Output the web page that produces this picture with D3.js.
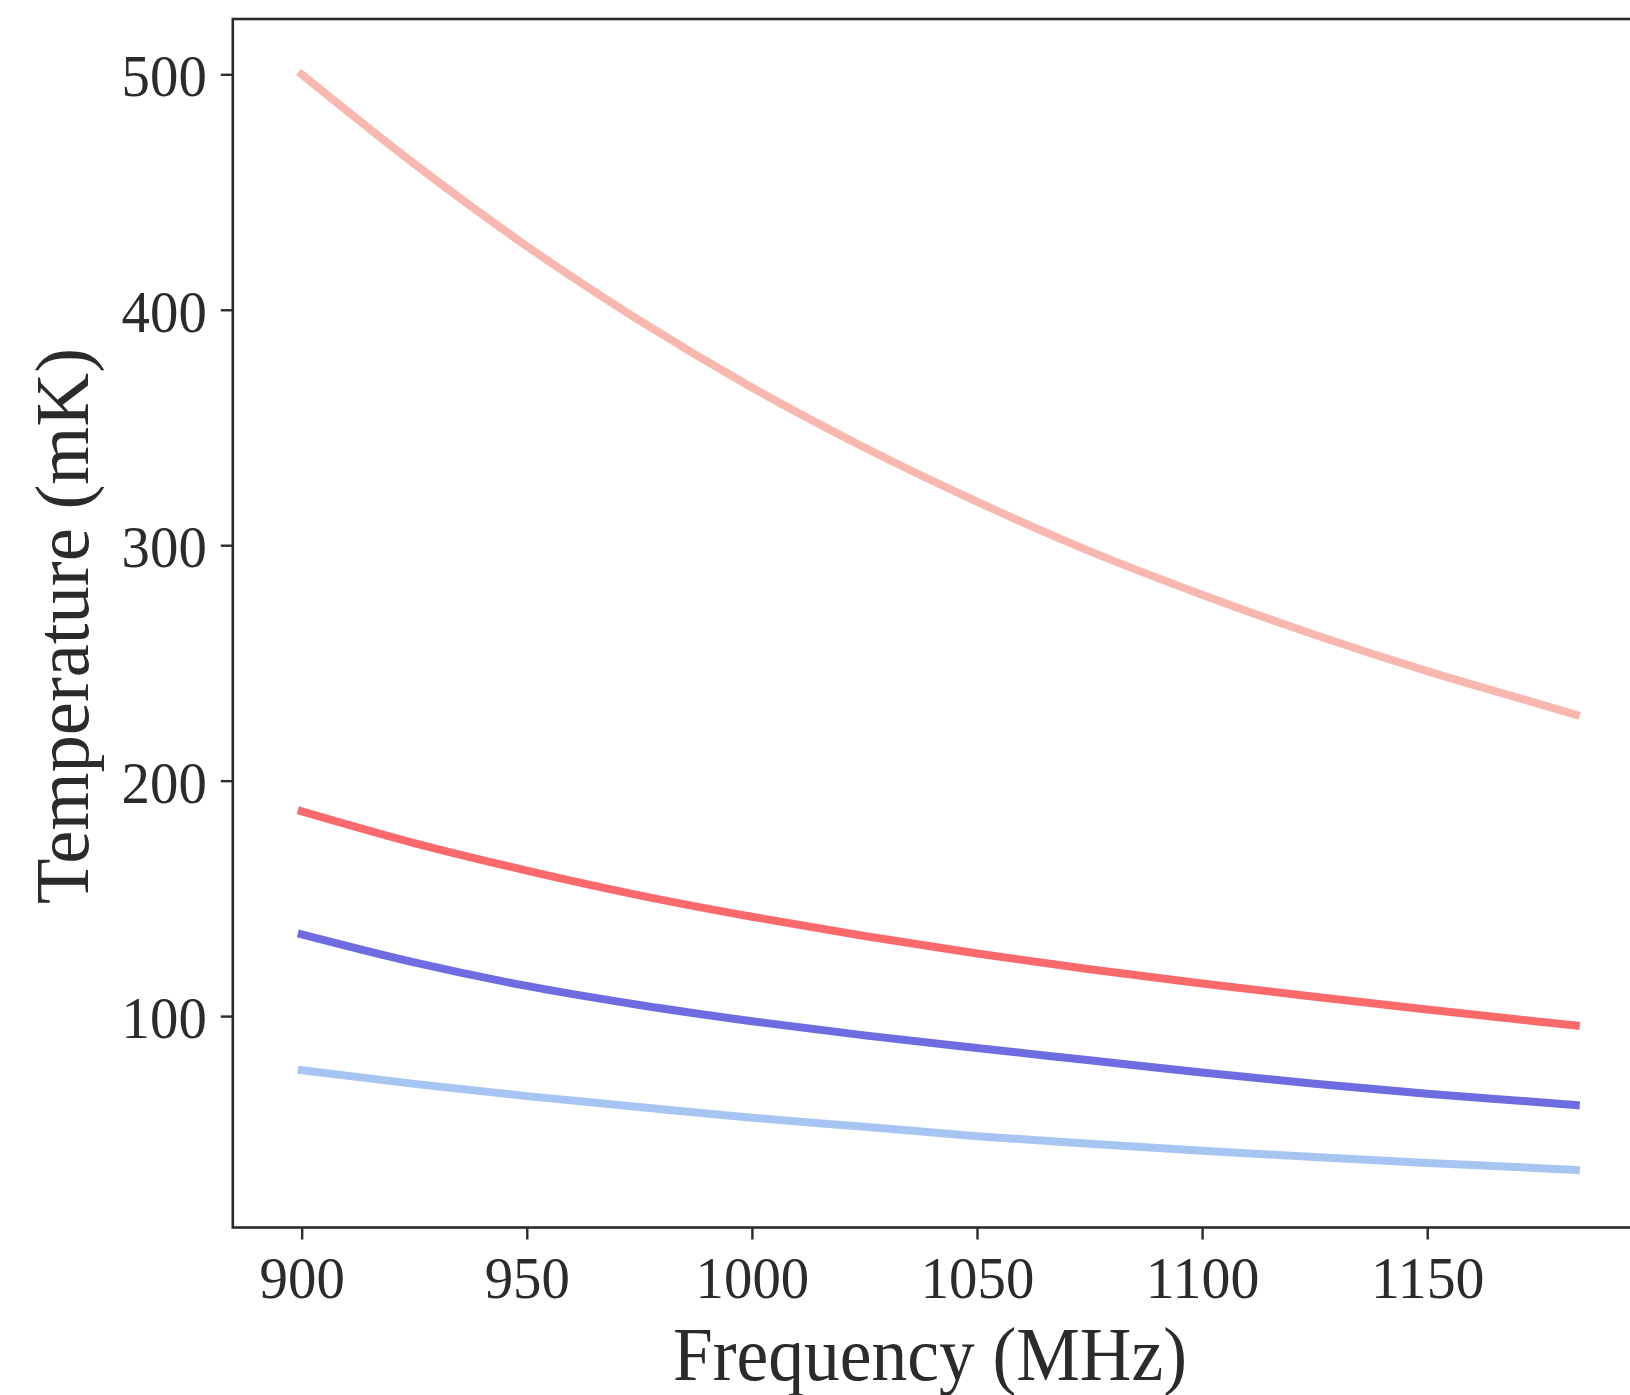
<!DOCTYPE html>
<html>
<head>
<meta charset="utf-8">
<script src="https://cdn.jsdelivr.net/npm/d3@7"></script>
<style>
  html, body { margin: 0; padding: 0; background: #fff; }
  svg { display: block; }
</style>
</head>
<body>
<svg id="chart" width="1630" height="1395"></svg>
<script>
// Frequency grid (MHz) and brightness temperatures (mK) for each curve
const frequency     = [900, 925, 950, 975, 1000, 1025, 1050, 1075, 1100, 1125, 1150, 1175, 1183];
const tempPaleRed   = [500, 462, 427, 395.5, 367, 341.5, 318.5, 297.5, 279, 262, 246.5, 232.5, 228];
const tempRed       = [187, 173.5, 161.8, 151.3, 142.2, 134.0, 126.6, 119.9, 113.8, 108.2, 102.8, 97.6, 96.0];
const tempBlue      = [134.7, 122.8, 112.8, 104.7, 97.8, 91.8, 86.4, 81.2, 76.0, 71.3, 67.0, 63.4, 62.2];
const tempLightBlue = [77, 71.2, 66.0, 61.4, 56.8, 53.0, 49.0, 45.8, 42.8, 40.1, 37.6, 35.4, 34.6];

const xTicks = [900, 950, 1000, 1050, 1100, 1150];
const yTicks = [100, 200, 300, 400, 500];

const seriesList = [
  { name: "paleRed",   values: tempPaleRed,   color: "#f8b7af" },
  { name: "red",       values: tempRed,       color: "#fa6a6c" },
  { name: "blue",      values: tempBlue,      color: "#6d6ce0" },
  { name: "lightBlue", values: tempLightBlue, color: "#a7c5f3" }
];

const svg = d3.select("#chart");

// Axes limits; the plot frame runs past the right edge of the page
const x = d3.scaleLinear().domain([884.7, 1221.3]).range([232.8, 1748.2]);
const y = d3.scaleLinear().domain([10.2, 523.5]).range([1227.5, 19]);

const serif = "'Liberation Serif', 'DejaVu Serif', serif";
const ink = "#2b2b2b";

// Curves
const line = d3.line()
  .x((d, i) => x(frequency[i]))
  .y(d => y(d))
  .curve(d3.curveMonotoneX);

svg.append("g").selectAll("path")
  .data(seriesList)
  .join("path")
  .attr("d", d => line(d.values))
  .attr("fill", "none")
  .attr("stroke", d => d.color)
  .attr("stroke-width", 8)
  .attr("stroke-linecap", "square")
  .attr("stroke-linejoin", "round");

// Plot frame
const [x0, x1] = x.range();
const [yb, yt] = y.range();
svg.append("rect")
  .attr("x", x0).attr("y", yt)
  .attr("width", x1 - x0).attr("height", yb - yt)
  .attr("fill", "none")
  .attr("stroke", ink)
  .attr("stroke-width", 2.6);

// X axis
const xAxis = svg.append("g")
  .attr("transform", `translate(0,${yb})`)
  .call(d3.axisBottom(x).tickValues(xTicks).tickSize(12).tickPadding(16).tickFormat(d3.format("d")));
xAxis.select(".domain").remove();
xAxis.selectAll(".tick line").attr("stroke", ink).attr("stroke-width", 2.4);
xAxis.selectAll(".tick text")
  .attr("fill", ink)
  .attr("font-family", serif)
  .attr("font-size", 60)
  .attr("dy", "0.71em")
  .attr("textLength", d => String(d).length * 28.4)
  .attr("lengthAdjust", "spacingAndGlyphs");

// Y axis
const yAxis = svg.append("g")
  .attr("transform", `translate(${x0},0)`)
  .call(d3.axisLeft(y).tickValues(yTicks).tickSize(12).tickPadding(14).tickFormat(d3.format("d")));
yAxis.select(".domain").remove();
yAxis.selectAll(".tick line").attr("stroke", ink).attr("stroke-width", 2.4);
yAxis.selectAll(".tick text")
  .attr("fill", ink)
  .attr("font-family", serif)
  .attr("font-size", 60)
  .attr("dy", "0.36em")
  .attr("textLength", d => String(d).length * 28.4)
  .attr("lengthAdjust", "spacingAndGlyphs");

// Axis titles
svg.append("text")
  .attr("x", 930).attr("y", 1380)
  .attr("text-anchor", "middle")
  .attr("font-family", serif)
  .attr("font-size", 76)
  .attr("fill", ink)
  .attr("textLength", 514)
  .attr("lengthAdjust", "spacingAndGlyphs")
  .text("Frequency (MHz)");

svg.append("text")
  .attr("transform", `translate(88,626) rotate(-90)`)
  .attr("text-anchor", "middle")
  .attr("font-family", serif)
  .attr("font-size", 76)
  .attr("fill", ink)
  .attr("textLength", 556)
  .attr("lengthAdjust", "spacingAndGlyphs")
  .text("Temperature (mK)");
</script>
</body>
</html>
